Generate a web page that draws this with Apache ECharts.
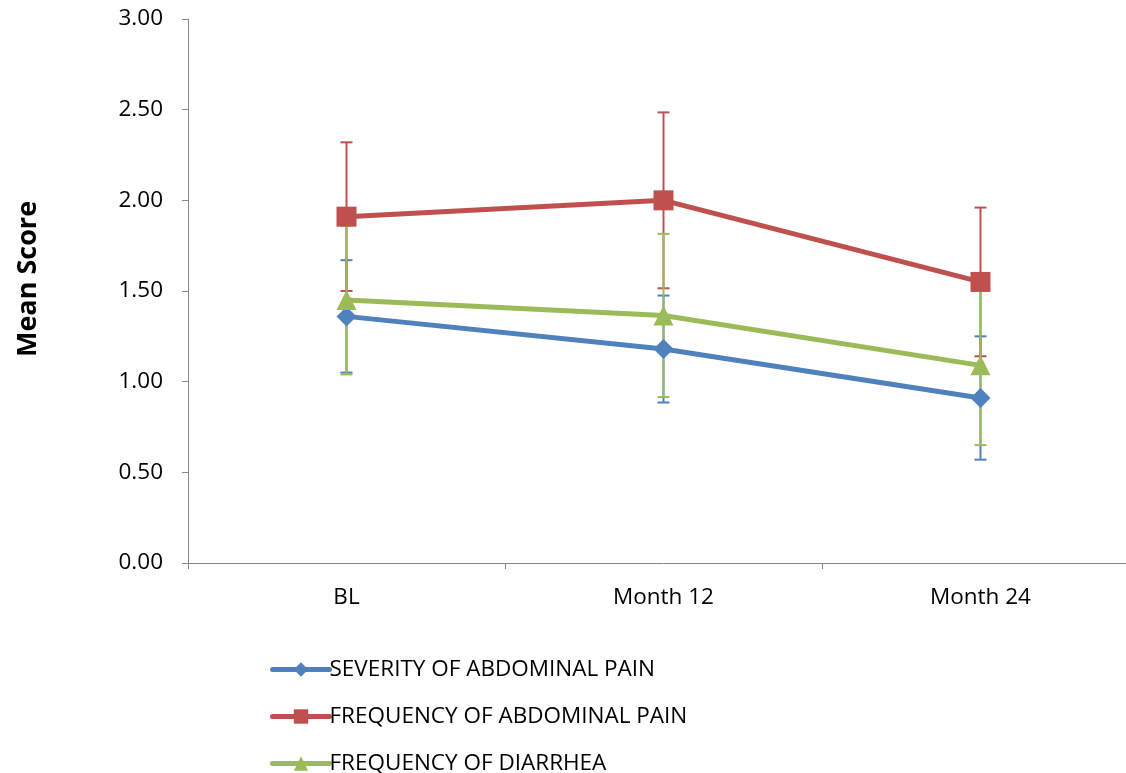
<!DOCTYPE html>
<html>
<head>
<meta charset="utf-8">
<script src="https://cdn.jsdelivr.net/npm/echarts@6/dist/echarts.min.js"></script>
<style>
  html, body { margin: 0; padding: 0; background: #fff; overflow: hidden; }
  #chart { width: 1142px; height: 773px; }
</style>
</head>
<body>
<div id="chart"></div>
<script>
// Mean symptom scores with standard deviation, by visit
const categories = ['BL', 'Month 12', 'Month 24'];
const yTicks = [0, 0.5, 1, 1.5, 2, 2.5, 3];

const severityPainMean = [1.36, 1.18, 0.91];
const severityPainSD = [0.31, 0.295, 0.34];

const frequencyPainMean = [1.91, 2.00, 1.55];
const frequencyPainSD = [0.41, 0.485, 0.41];

const frequencyDiarrheaMean = [1.45, 1.365, 1.09];
const frequencyDiarrheaSD = [0.41, 0.45, 0.44];

const seriesNames = ['SEVERITY OF ABDOMINAL PAIN', 'FREQUENCY OF ABDOMINAL PAIN', 'FREQUENCY OF DIARRHEA'];
const colors = ['#4F81BD', '#C0504D', '#9BBB59'];
const FONT = 'Open Sans';
const LABEL_SIZE = 22.5;

function errorRows(means, sds) {
  return means.map((m, i) => [i, m - sds[i], m + sds[i]]);
}

// Vertical whisker with caps, one per category
function errorBarSeries(name, means, sds, color) {
  return {
    type: 'custom',
    name: name + ' SD',
    data: errorRows(means, sds),
    encode: { x: 0, y: [1, 2] },
    z: 2,
    silent: true,
    renderItem(params, api) {
      const x = api.value(0);
      const lo = api.coord([x, api.value(1)]);
      const hi = api.coord([x, api.value(2)]);
      const half = 6;
      const style = { stroke: color, lineWidth: 2 };
      return {
        type: 'group',
        children: [
          { type: 'line', shape: { x1: lo[0], y1: lo[1], x2: hi[0], y2: hi[1] }, style },
          { type: 'line', shape: { x1: hi[0] - half, y1: hi[1], x2: hi[0] + half, y2: hi[1] }, style },
          { type: 'line', shape: { x1: lo[0] - half, y1: lo[1], x2: lo[0] + half, y2: lo[1] }, style }
        ]
      };
    }
  };
}

function lineSeries(name, means, color, symbol, size) {
  return {
    type: 'line',
    name,
    data: means,
    symbol,
    symbolSize: size,
    showAllSymbol: true,
    z: 5,
    lineStyle: { color, width: 5, cap: 'round' },
    itemStyle: { color, opacity: 1 },
    emphasis: { disabled: true }
  };
}

const chart = echarts.init(document.getElementById('chart'));
chart.setOption({
  animation: false,
  color: colors,
  grid: { left: 188, top: 19, width: 951, height: 544, containLabel: false },
  legend: {
    data: seriesNames,
    orient: 'vertical',
    left: 265,
    top: 653,
    height: 140,
    itemWidth: 57,
    itemHeight: 18,
    itemGap: 24,
    lineStyle: { width: 5, cap: 'round' },
    textStyle: { fontFamily: FONT, fontSize: LABEL_SIZE, color: '#000', padding: [0, 0, 0, -5] }
  },
  xAxis: {
    type: 'category',
    data: categories,
    boundaryGap: true,
    axisLine: { lineStyle: { color: '#888', width: 1 } },
    axisTick: { show: true, length: 6, lineStyle: { color: '#888' } },
    axisLabel: { fontFamily: FONT, fontSize: LABEL_SIZE, color: '#000', margin: 23 },
    splitLine: { show: false }
  },
  yAxis: {
    type: 'value',
    min: yTicks[0],
    max: yTicks[yTicks.length - 1],
    interval: 0.5,
    name: 'Mean Score',
    nameLocation: 'middle',
    nameGap: 146,
    nameTextStyle: { fontFamily: FONT, fontSize: 27, fontWeight: 'bold', color: '#000', padding: [0, 0, 0, 24] },
    axisLine: { show: true, lineStyle: { color: '#888', width: 1 } },
    axisTick: { show: true, length: 6, lineStyle: { color: '#888' } },
    axisLabel: { fontFamily: FONT, fontSize: LABEL_SIZE, color: '#000', margin: 25, formatter: v => v.toFixed(2) },
    splitLine: { show: false }
  },
  series: [
    errorBarSeries(seriesNames[0], severityPainMean, severityPainSD, colors[0]),
    errorBarSeries(seriesNames[1], frequencyPainMean, frequencyPainSD, colors[1]),
    errorBarSeries(seriesNames[2], frequencyDiarrheaMean, frequencyDiarrheaSD, colors[2]),
    lineSeries(seriesNames[0], severityPainMean, colors[0], 'diamond', 20),
    lineSeries(seriesNames[1], frequencyPainMean, colors[1], 'rect', 20),
    lineSeries(seriesNames[2], frequencyDiarrheaMean, colors[2], 'triangle', 20)
  ]
});
</script>
</body>
</html>
